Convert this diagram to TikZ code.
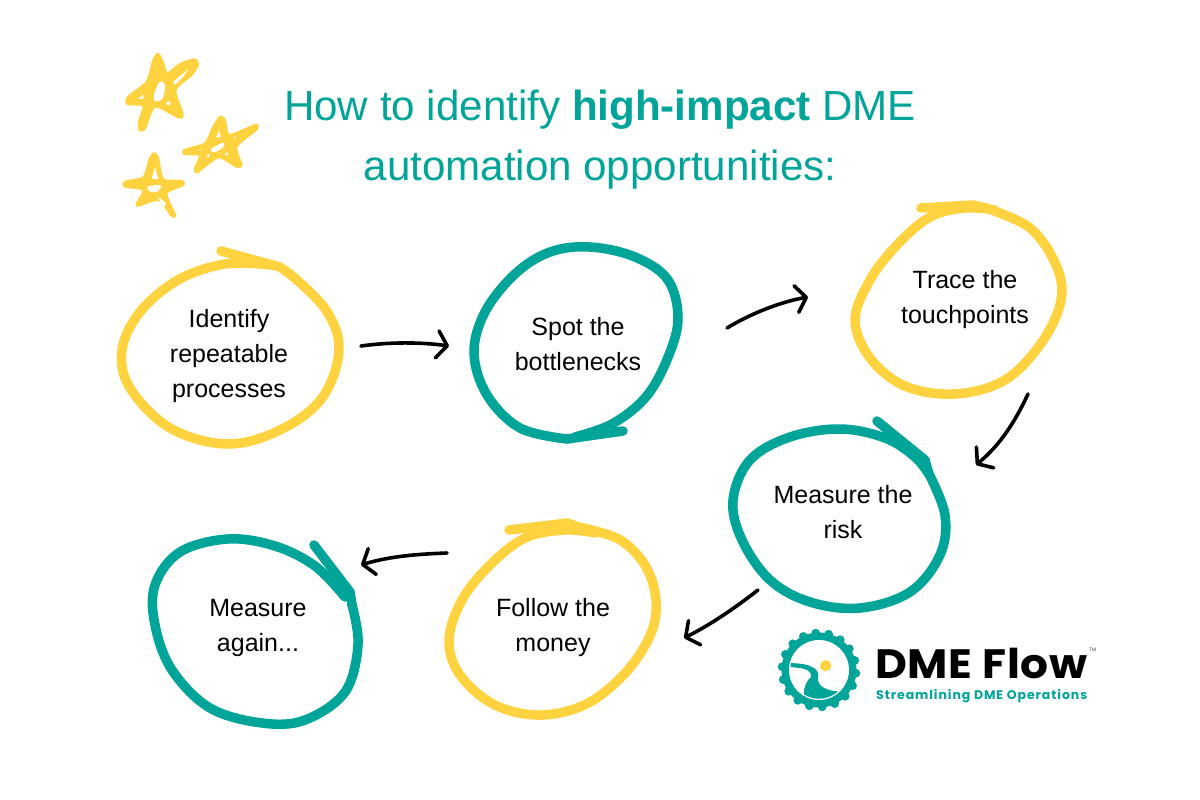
\documentclass[tikz,border=0pt]{standalone}
\usepackage{fontspec}
\usepackage{graphicx}
\setmainfont{Liberation Sans}
\newfontfamily\logofont[LetterSpace=1.5]{Poppins}
\newfontfamily\tagfont[LetterSpace=7.5]{Poppins}
\usetikzlibrary{arrows.meta,calc}
\definecolor{dmeteal}{HTML}{00A498}
\definecolor{dmeyellow}{HTML}{FFD33F}
\tikzset{
  ringy/.style={draw=dmeyellow,line width=9.5pt,line cap=round,line join=round},
  ringt/.style={draw=dmeteal,line width=9.5pt,line cap=round,line join=round},
  steplabel/.style={align=center,font=\fontsize{25}{35}\selectfont,text=black,inner sep=0pt},
  titleline/.style={anchor=base,font=\fontsize{42.1}{50}\selectfont,text=dmeteal,inner sep=0pt},
  flowarrow/.style={draw=black,line width=3.6pt,line cap=round,
    -{Straight Barb[round,length=10pt,width=27pt,line width=3.6pt]}},
  starfill/.style={fill=dmeyellow,draw=dmeyellow,line width=2pt,line join=round},
  starhole/.style={fill=white},
  loopcurve/.style={smooth,tension=.6},
}
\begin{document}
\begin{tikzpicture}[x=1pt,y=-1pt]
\useasboundingbox[fill=white] (0,0) rectangle (1200,800);

% title
\node[titleline] (t1) at (600,120) {How to identify \textbf{high-impact} DME};
\node[titleline] (t2) at (600,180) {automation opportunities:};

% stars
\begin{scope}[shift={(110,40)},x=0.3333pt,y=-0.3333pt]
\path[starfill] plot[smooth cycle,tension=.45] coordinates {(145,42)(160,70)(172,100)(210,72)(252,58)(265,72)(245,105)(197,150)(218,222)(205,232)(135,200)(105,265)(88,270)(88,240)(100,197)(52,192)(55,170)(110,125)(130,60)};
\path[starhole] plot[smooth cycle,tension=.6] coordinates {(150,125)(165,135)(158,175)(135,183)(133,160)};
\path[starhole] (190,125)--(236,86)--(218,112)--(195,135)--cycle;
\path[starhole] (85,177)--(100,163)--(100,177)--cycle;
\path[starhole] (175,190) circle (6);
\path[starfill] plot[smooth cycle,tension=.4] coordinates {(330,230)(345,240)(358,285)(435,255)(440,268)(380,320)(395,375)(380,380)(325,352)(262,397)(255,385)(270,345)(225,343)(222,330)(285,310)(310,260)};
\path[starhole] plot[smooth cycle,tension=.6] coordinates {(303,327)(340,308)(338,323)(312,337)};
\path[starhole] (328,272)--(332,292)--(318,292)--cycle;
\path[starhole] (350,342) circle (5) (295,347) circle (5) (375,292) circle (3) (270,330) circle (3);
\path[starfill] plot[smooth cycle,tension=.4] coordinates {(130,340)(143,350)(160,418)(215,422)(220,435)(170,460)(195,525)(185,528)(145,480)(80,497)(100,450)(45,440)(45,425)(100,412)(118,360)};
\path[starhole] (135,382)--(145,418)--(125,416)--cycle;
\path[starhole] plot[smooth cycle,tension=.6] coordinates {(113,440)(152,436)(142,455)(120,455)};
\path[starhole] (143,470)--(167,488)--(162,507)--cycle;
\end{scope}

% rings
\draw[ringy] plot[loopcurve] coordinates {(290,274)(326,310)(339,350)(322,398)(280,430)(227,444)(170,428)(130,388)(122,350)(140,312)(178,280)(225,264)(272,265)};
\draw[ringy] (221,251) -- (280,267) -- (290,274);
\draw[ringt] plot[loopcurve] coordinates {(567,439)(520,428)(487,395)(474,353)(485,312)(515,274)(550,252)(590,247)(635,257)(668,280)(678,320)(666,362)(645,398)(612,424)(575,437)};
\draw[ringt] (623,431) -- (567,439);
\draw[ringy] plot[loopcurve] coordinates {(986,208)(1030,228)(1056,265)(1061,300)(1042,342)(1005,380)(955,394)(905,386)(870,358)(855,320)(870,280)(897,245)(930,217)(965,208)(995,210)};
\draw[ringy] (921,208) -- (973,205) -- (986,208);
\draw[ringt] plot[loopcurve] coordinates {(929,474)(945,515)(940,555)(910,592)(860,608)(810,602)(770,580)(742,540)(733,500)(750,460)(790,437)(840,429)(885,438)(915,457)(930,476)};
\draw[ringt] (877,421) -- (925,460) -- (929,474);
\draw[ringy] plot[loopcurve] coordinates {(578,527)(622,541)(650,575)(655,620)(632,665)(590,702)(542,715)(495,705)(460,675)(449,640)(462,600)(490,565)(525,538)(565,530)(596,533)};
\draw[ringy] (509,530) -- (568,523) -- (578,527);
\draw[ringt] plot[loopcurve] coordinates {(352,605)(358,645)(345,692)(305,720)(262,723)(210,708)(172,670)(155,625)(155,585)(180,552)(228,539)(275,546)(315,566)(345,597)};
\draw[ringt] (314,545) -- (350,592) -- (352,605);

% labels
\node[steplabel] (c1) at (229,356) {Identify\\repeatable\\processes};
\node[steplabel] (c2) at (578,344) {Spot the\\bottlenecks};
\node[steplabel] (c3) at (965,300) {Trace the\\touchpoints};
\node[steplabel] (c4) at (843,512) {Measure the\\risk};
\node[steplabel] (c5) at (258,628) {Measure\\again...};
\node[steplabel] (c6) at (553,628) {Follow the\\money};

% connectors
\coordinate (a1s) at (361,346); \coordinate (a1e) at (449,346);
\coordinate (a2s) at (727,328); \coordinate (a2e) at (808,297);
\coordinate (a3s) at (1028,394); \coordinate (a3e) at (976,465);
\coordinate (a4s) at (758,590); \coordinate (a4e) at (684,638);
\coordinate (a5s) at (447,553); \coordinate (a5e) at (361,565);
\draw[flowarrow] (a1s) .. controls (390,342) and (420,342) .. (a1e);
\draw[flowarrow] (a2s) .. controls (750,314) and (780,302) .. (a2e);
\draw[flowarrow] (a3s) .. controls (1015,422) and (1000,445) .. (a3e);
\draw[flowarrow] (a4s) .. controls (735,608) and (710,625) .. (a4e);
\draw[flowarrow] (a5s) .. controls (420,554) and (390,556) .. (a5e);

% logo
\begin{scope}
\foreach \a in {0,20,...,340}{
  \fill[dmeteal] ($(819,670)+(\a+5:37)$) circle (4.4);
}
\fill[dmeteal] (819,670) circle (37.5);
\fill[white] (819,670) circle (30);
\begin{scope}
\clip (819,670) circle (28.7);
\fill[dmeteal] (790,663) .. controls (800,663.5) and (808,664) .. (814,668)
  .. controls (820,672) and (818,677) .. (818,680)
  .. controls (819,688) and (830,693) .. (850,691)
  -- (850,705) -- (800,705) -- (804,695)
  .. controls (803,688) and (807,680) .. (811,677)
  .. controls (812,671) and (806,669) .. (800,668)
  -- (790,667) -- cycle;
\end{scope}
\fill[dmeyellow] (825.7,665.7) circle (5.6);
\end{scope}
\node[anchor=base west,inner sep=0pt,font=\logofont\bfseries\fontsize{41}{41}\selectfont,text=black] (logo) at (875,678) {\scalebox{1.07}[1]{DME Flow}};
\node[anchor=base west,inner sep=0pt,font=\logofont\fontsize{5}{5}\selectfont,text=black!70] (tm) at (1089,651) {TM};
\node[anchor=base west,inner sep=0pt,font=\tagfont\bfseries\fontsize{12.5}{12.5}\selectfont,text=dmeteal] (tag) at (876,699) {Streamlining DME Operations};
\end{tikzpicture}
\end{document}
